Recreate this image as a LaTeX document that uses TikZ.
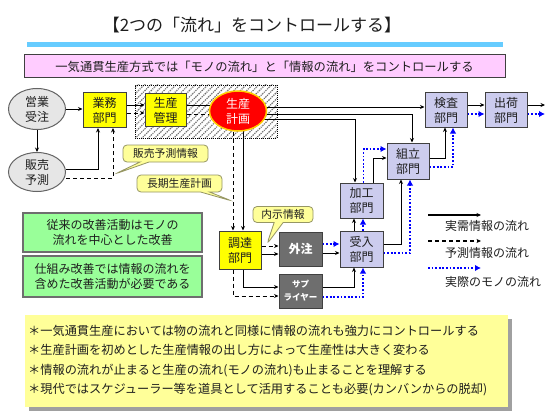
\documentclass[tikz,border=0pt]{standalone}
\usepackage{fontspec}
\setmainfont{Noto Sans CJK JP}
\usetikzlibrary{arrows.meta,calc,shapes.geometric,shapes.callouts,patterns.meta}
\pgfdeclarelayer{bg}
\pgfsetlayers{bg,main}
\newcommand\myfs[2]{\fontsize{#1}{#2}\selectfont}
\definecolor{bline}{RGB}{64,64,64}
\definecolor{ylw}{RGB}{255,255,0}
\definecolor{lav}{RGB}{204,204,238}
\definecolor{dgray}{RGB}{110,110,110}
\definecolor{ellfill}{RGB}{230,230,230}
\definecolor{ellline}{RGB}{100,100,100}
\definecolor{redf}{RGB}{255,0,0}
\definecolor{redl}{RGB}{255,204,0}
\definecolor{callf}{RGB}{255,255,153}
\definecolor{calll}{RGB}{150,150,100}
\definecolor{grn}{RGB}{153,255,153}
\definecolor{grnl}{RGB}{110,110,110}
\definecolor{pnk}{RGB}{255,204,255}
\definecolor{sky}{RGB}{102,204,255}
\definecolor{notef}{RGB}{255,255,153}
\definecolor{shad}{RGB}{160,160,160}
\definecolor{mblue}{RGB}{0,0,255}
\definecolor{txt}{RGB}{30,30,30}
\definecolor{hatch}{RGB}{110,110,110}
\begin{document}
\begin{tikzpicture}[x=1pt,y=-1pt,
  box/.style={draw=bline,line width=1pt,align=center,inner sep=0pt,text=txt,font=\myfs{12}{15}},
  ybox/.style={box,fill=ylw},
  lbox/.style={box,fill=lav},
  dbox/.style={box,fill=dgray,text=white,font=\bfseries\myfs{12}{15}},
  ell/.style={ellipse,draw=ellline,line width=1pt,fill=ellfill,minimum width=57,minimum height=41,inner sep=0pt,align=center,text=txt,font=\myfs{12}{15}},
  callbox/.style={rectangle callout,draw=calll,line width=0.8pt,fill=callf,rounded corners=4pt,inner sep=0pt,callout pointer width=9pt,text=txt,font=\myfs{10.8}{13}},
  gbox/.style={draw=grnl,line width=1.6pt,fill=grn,align=center,inner sep=0pt,minimum width=179,text=txt,font=\myfs{12}{15}},
  zonestyle/.style={draw=black,line width=0.8pt,dash pattern=on 1pt off 1pt,pattern={Lines[angle=45,distance=4.5pt,line width=1.2pt]},pattern color=hatch,inner sep=0pt},
  sol/.style={draw=black,line width=0.9pt,-{Stealth[length=4.5pt,width=4pt]}},
  solp/.style={draw=black,line width=0.9pt},
  dsh/.style={draw=black,line width=0.8pt,dash pattern=on 4pt off 3pt,-{Stealth[length=4.5pt,width=4pt]}},
  dshp/.style={draw=black,line width=0.8pt,dash pattern=on 4pt off 3pt},
  mono/.style={draw=mblue,line width=1.8pt,dash pattern=on 1.8pt off 1.8pt,-{Latex[length=6pt,width=6.5pt]}},
  legtxt/.style={anchor=west,inner sep=0pt,text=txt,font=\myfs{12}{14}}
]
\begin{pgfonlayer}{bg}
\fill[white] (0,0) rectangle (560,420);
\end{pgfonlayer}
\useasboundingbox (0,0) rectangle (560,420);

% title and banner
\node[inner sep=0pt,text=txt,font=\myfs{17}{20}] (title) at (252,25) {【2つの「流れ」をコントロールする】};
\node[fill=sky,minimum width=476,minimum height=5,inner sep=0pt] (rule) at (265,44.5) {};
\node[draw=bline,line width=1pt,fill=pnk,minimum width=481,minimum height=23,inner sep=0pt,text=txt,font=\myfs{12.3}{14}] (banner) at (264.5,66.5) {一気通貫生産方式では「モノの流れ」と「情報の流れ」をコントロールする};

% hatched zone
\begin{pgfonlayer}{bg}
\node[zonestyle,minimum width=142,minimum height=53] (zone) at (206,111.5) {};
\end{pgfonlayer}

% nodes
\node[ell] (eigyo) at (37,109) {営業\\受注};
\node[ell,minimum height=39] (hanbai) at (37,172) {販売\\予測};
\node[ybox,minimum width=43,minimum height=35] (gyomu) at (104.5,110) {業務\\部門};
\node[ybox,minimum width=41,minimum height=32] (kanri) at (165.5,110) {生産\\管理};
\node[ellipse,draw=redl,line width=1.5pt,fill=redf,minimum width=57,minimum height=40,inner sep=0pt,align=center,text=white,font=\myfs{12}{15}] (keikaku) at (238,111) {生産\\計画};
\node[lbox,minimum width=42,minimum height=34] (kensa) at (446,110) {検査\\部門};
\node[lbox,minimum width=42,minimum height=34] (shukka) at (506,110) {出荷\\部門};
\node[lbox,minimum width=42,minimum height=36] (kumitate) at (408,161) {組立\\部門};
\node[lbox,minimum width=43,minimum height=35] (kakou) at (361.5,200.5) {加工\\部門};
\node[lbox,minimum width=43,minimum height=36] (ukeire) at (361.5,249) {受入\\部門};
\node[ybox,minimum width=42,minimum height=38] (chotatsu) at (240,250) {調達\\部門};
\node[dbox,minimum width=43,minimum height=34] (gaichu) at (300.5,249) {外注};
\node[dbox,minimum width=43,minimum height=34,font=\bfseries\myfs{8.5}{13}] (supply) at (300.5,291) {サプ\\ライヤー};

% callouts
\node[callbox,minimum width=85,minimum height=17,callout absolute pointer={(115,174)}] (c1) at (165.5,153.5) {販売予測情報};
\node[callbox,minimum width=85,minimum height=17,callout absolute pointer={(232,201)}] (c2) at (179.5,183.5) {長期生産計画};
\node[callbox,minimum width=60,minimum height=16,callout absolute pointer={(267,244)}] (c3) at (283,214.5) {内示情報};

% green boxes
\node[gbox,minimum height=39] (g1) at (112.5,232.5) {従来の改善活動はモノの\\流れを中心とした改善};
\node[gbox,minimum height=41] (g2) at (112.5,276.5) {仕組み改善では情報の流れを\\含めた改善活動が必要である};

% note box
\node[fill=shad,minimum width=483,minimum height=92,inner sep=0pt] (noteshadow) at (270,364.5) {};
\node[fill=notef,minimum width=483,minimum height=92,inner sep=0pt] (note) at (266.5,361) {};
\node[anchor=west,align=left,inner sep=0pt,text=txt,font=\myfs{12.2}{19.3}] (notetext) at (28,360.5) {＊一気通貫生産においては物の流れと同様に情報の流れも強力にコントロールする\\＊生産計画を初めとした生産情報の出し方によって生産性は大きく変わる\\＊情報の流れが止まると生産の流れ(モノの流れ)も止まることを理解する\\＊現代ではスケジューラー等を道具として活用することも必要(カンバンからの脱却)};

% connectors: left part
\draw[sol] (eigyo.east) -- (eigyo.east -| gyomu.west);
\draw[sol] (eigyo) -- (hanbai);
\draw[sol] ($(hanbai.east)+(0,-3)$) -| ($(gyomu.south)+(-6.5,0)$);
\draw[dsh] ($(hanbai.east)+(0,6)$) -| ($(gyomu.south)+(8.5,0)$);
\draw[sol] ($(gyomu.east)+(0,-5)$) -- ($(kanri.west)+(0,-5)$);
\draw[dsh] ($(gyomu.east)+(0,3)$) -- ($(kanri.west)+(0,3)$);
\begin{pgfonlayer}{bg}
\draw[solp] ($(kanri.east)+(0,-5)$) -- ($(keikaku.center)+(0,-6)$);
\draw[dshp] ($(kanri.east)+(0,4)$) -- ($(keikaku.center)+(0,3)$);
\draw[sol] ($(keikaku.center)+(0,-4)$) -- ($(kensa.west)+(0,-3)$);
\draw[sol] ($(keikaku.center)+(0,3)$) -| ($(kumitate.north)+(4,0)$);
\draw[sol] ($(keikaku.center)+(0,8)$) -| ($(kakou.north)+(-6.5,0)$);
\draw[dsh] ($(keikaku.center)+(-5,0)$) -- ($(chotatsu.north)+(-7,0)$);
\draw[sol] ($(keikaku.center)+(5,0)$) -- ($(chotatsu.north)+(3,0)$);
\end{pgfonlayer}

% procurement
\draw[dsh] ($(chotatsu.south)+(-7,0)$) |- ($(supply.west)+(0,5)$);
\draw[sol] ($(chotatsu.south)+(3,0)$) |- ($(supply.west)+(0,-4)$);
\draw[dsh] ($(chotatsu.east)+(0,-4)$) -- ($(gaichu.west)+(0,-3)$);
\draw[sol] ($(chotatsu.east)+(0,4)$) -- ($(gaichu.west)+(0,5)$);
\draw[mono] ($(gaichu.east)+(0,-5)$) -- ($(ukeire.west)+(0,-5)$);
\draw[sol] ($(gaichu.east)+(0,4)$) -- ($(ukeire.west)+(0,4)$);
\draw[sol] ($(supply.east)+(0,-4)$) -| ($(ukeire.south)+(-7.5,0)$);
\draw[mono] ($(supply.east)+(0,6)$) -| ($(ukeire.south)+(1.5,0)$);

% material flow
\draw[sol] ($(ukeire.north)+(-7.5,0)$) -- ($(kakou.south)+(-7.5,0)$);
\draw[mono] ($(ukeire.north)+(1.5,0)$) -- ($(kakou.south)+(1.5,0)$);
\draw[sol] ($(ukeire.east)+(0,-5)$) -| ($(kumitate.south)+(-7,0)$);
\draw[mono] ($(ukeire.east)+(0,4)$) -| ($(kumitate.south)+(2,0)$);
\draw[sol] ($(kakou.north)+(12,0)$) |- ($(kumitate.west)+(0,-3)$);
\draw[mono] ($(kakou.north)+(2,0)$) |- ($(kumitate.west)+(0,-12)$);
\draw[sol] ($(kumitate.east)+(0,-3)$) -| ($(kensa.south)+(-1,0)$);
\draw[mono] ($(kumitate.east)+(0,6)$) -| ($(kensa.south)+(7,0)$);
\draw[sol] ($(kensa.east)+(0,-5)$) -- ($(shukka.west)+(0,-5)$);
\draw[mono] ($(kensa.east)+(0,4)$) -- ($(shukka.west)+(0,4)$);
\coordinate (out1) at (545,105);
\coordinate (out2) at (545,114);
\draw[sol] ($(shukka.east)+(0,-5)$) -- (out1);
\draw[mono] ($(shukka.east)+(0,4)$) -- (out2);

% legend
\coordinate (la1) at (428,215); \coordinate (lb1) at (481,215);
\coordinate (la2) at (428,241); \coordinate (lb2) at (481,241);
\coordinate (la3) at (428,268); \coordinate (lb3) at (481,268);
\draw[sol,line width=1.8pt] (la1) -- (lb1);
\draw[dsh,line width=1.2pt] (la2) -- (lb2);
\draw[mono] (la3) -- (lb3);
\node[legtxt] (lt1) at (445,226) {実需情報の流れ};
\node[legtxt] (lt2) at (445,253) {予測情報の流れ};
\node[legtxt] (lt3) at (445,282) {実際のモノの流れ};
\end{tikzpicture}
\end{document}
